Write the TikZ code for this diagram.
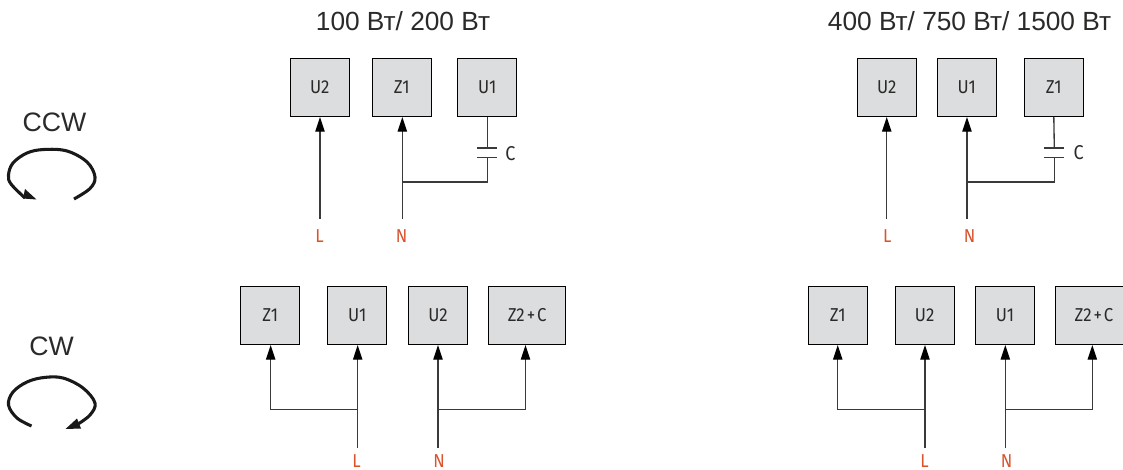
\documentclass[tikz,border=0pt]{standalone}
\usepackage{fontspec}
\setmainfont{Liberation Sans}
\newfontfamily\labfont[FakeStretch=0.9]{Fira Sans}
\usetikzlibrary{arrows.meta}
\definecolor{boxgrey}{HTML}{DCDDDF}
\definecolor{wire}{HTML}{3A3A3C}
\definecolor{labred}{HTML}{D9532C}
\definecolor{txt}{HTML}{2B2A29}
\tikzset{
  x=0.75pt,y=-0.75pt,
  unit/.style={draw=black,fill=boxgrey,line width=0.7pt,minimum width=44.25pt,minimum height=43.5pt,inner sep=0pt,text=txt,font=\labfont\fontsize{14}{16}\selectfont},
  wideunit/.style={unit,minimum width=58pt},
  wireline/.style={draw=wire,line width=1pt},
  feed/.style={wireline,-{Triangle[length=11pt,width=7pt,black]},shorten >=0.2pt},
  phase/.style={text=labred,font=\labfont\fontsize{14}{16}\selectfont,inner sep=0pt},
  caplabel/.style={text=txt,font=\labfont\fontsize{15}{16}\selectfont,inner sep=0pt},
  title/.style={text=txt,font=\fontsize{19.7}{22}\selectfont,inner sep=0pt},
  plate/.style={draw=wire,line width=0.9pt},
  loopline/.style={draw=black!90,line width=2.3pt,line join=round},
}
\begin{document}
\begin{tikzpicture}
\useasboundingbox (0,0) rectangle (1123,470);
\clip (0,0) rectangle (1123,470);
% titles
\node[title] (t1) at (403,21) {100 Вт/ 200 Вт};
\node[title] (t2) at (969.5,21) {400 Вт/ 750 Вт/ 1500 Вт};
\node[title,font=\fontsize{20}{22}\selectfont] (ccw) at (54.5,122) {CCW};
\node[title,font=\fontsize{20}{22}\selectfont] (cw) at (51.5,346) {CW};
% rotation arrows
\draw[loopline] plot[smooth,tension=0.6] coordinates {(74,199) (90,188.5) (95,177) (87,162) (67,151) (44,149.5) (27,153) (13,163) (8.5,175) (11,184) (25,198)};
\fill[black!90] (36.5,199.5) -- (25,189) -- (23,198.5) -- cycle;
\draw[loopline] plot[smooth,tension=0.6] coordinates {(31.5,426) (17,418) (8.5,405) (13,392) (27,382) (44,377.5) (63,378) (83,388) (95,403) (90,415) (78,424)};
\fill[black!90] (65.5,429) -- (77,418.5) -- (81,428.5) -- cycle;
% top-left group
\node[unit] (a1) at (319.8,87.3) {U2};
\node[unit] (a2) at (401.7,87.3) {Z1};
\node[unit] (a3) at (487.3,87.3) {U1};
\node[phase] (aL) at (319.5,236.5) {L};
\node[phase] (aN) at (401.7,236.5) {N};
\coordinate (aLe) at (320,219);
\coordinate (aNe) at (402.3,219);
\coordinate (aJ) at (402.3,182);
\coordinate (aK) at (487.3,182);
\coordinate (aP1) at (487.3,148);
\coordinate (aP2) at (487.3,157.7);
\draw[feed] (aLe) -- (aLe |- a1.south);
\draw[feed] (aNe) -- (aNe |- a2.south);
\draw[wireline] (aJ) -- (aK) -- (aP2);
\draw[wireline] (a3.south) -- (aP1);
\draw[plate] ([xshift=-7.5pt]aP1) -- ([xshift=7.5pt]aP1);
\draw[plate] ([xshift=-7.5pt]aP2) -- ([xshift=7.5pt]aP2);
\node[caplabel] (aC) at (510.5,153.5) {C};
% top-right group
\node[unit] (b1) at (886.8,87.3) {U2};
\node[unit] (b2) at (966.8,87.3) {U1};
\node[unit] (b3) at (1053.8,87.3) {Z1};
\node[phase] (bL) at (887.3,236.5) {L};
\node[phase] (bN) at (969.5,236.5) {N};
\coordinate (bLe) at (886.7,219);
\coordinate (bNe) at (967,219);
\coordinate (bJ) at (967,182);
\coordinate (bK) at (1054.3,182);
\coordinate (bP1) at (1054.3,148);
\coordinate (bP2) at (1054.3,157.7);
\draw[feed] (bLe) -- (bLe |- b1.south);
\draw[feed] (bNe) -- (bNe |- b2.south);
\draw[wireline] (bJ) -- (bK) -- (bP2);
\draw[wireline] (b3.south) -- (bP1);
\draw[plate] ([xshift=-7.5pt]bP1) -- ([xshift=7.5pt]bP1);
\draw[plate] ([xshift=-7.5pt]bP2) -- ([xshift=7.5pt]bP2);
\node[caplabel] (bC) at (1078.7,152.5) {C};
% bottom-left group
\node[unit] (c1) at (270.2,315.3) {Z1};
\node[unit] (c2) at (357.2,315.3) {U1};
\node[unit] (c3) at (438,315.3) {U2};
\node[wideunit] (c4) at (527.2,315.3) {Z2{\kern1.5pt}+{\kern1.5pt}C};
\node[phase] (cL) at (356.5,461) {L};
\node[phase] (cN) at (439,461) {N};
\coordinate (cLe) at (357.7,448);
\coordinate (cNe) at (438,448);
\coordinate (cJ) at (357.7,409.7);
\coordinate (cK) at (438,409.7);
\coordinate (cA) at (270.7,409.7);
\coordinate (cB) at (525.5,409.7);
\draw[feed] (cLe) -- (cLe |- c2.south);
\draw[feed] (cNe) -- (cNe |- c3.south);
\draw[feed] (cJ) -- (cA) -- (cA |- c1.south);
\draw[feed] (cK) -- (cB) -- (cB |- c4.south);
% bottom-right group
\node[unit] (d1) at (837.7,315.3) {Z1};
\node[unit] (d2) at (924.7,315.3) {U2};
\node[unit] (d3) at (1005,315.3) {U1};
\node[wideunit] (d4) at (1094,315.3) {Z2{\kern1.5pt}+{\kern1.5pt}C};
\node[phase] (dL) at (924.5,461) {L};
\node[phase] (dN) at (1006.5,461) {N};
\coordinate (dLe) at (925,448);
\coordinate (dNe) at (1005.3,448);
\coordinate (dJ) at (925,409.7);
\coordinate (dK) at (1005.3,409.7);
\coordinate (dA) at (837.7,409.7);
\coordinate (dB) at (1092.3,409.7);
\draw[feed] (dLe) -- (dLe |- d2.south);
\draw[feed] (dNe) -- (dNe |- d3.south);
\draw[feed] (dJ) -- (dA) -- (dA |- d1.south);
\draw[feed] (dK) -- (dB) -- (dB |- d4.south);
\end{tikzpicture}
\end{document}
